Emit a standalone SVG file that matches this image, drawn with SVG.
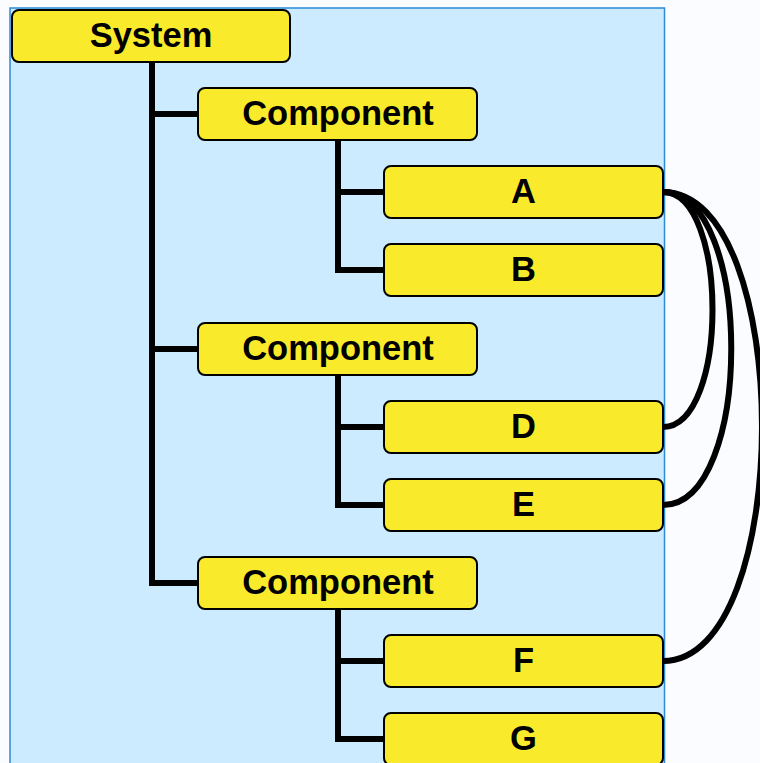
<svg xmlns="http://www.w3.org/2000/svg" width="760" height="763" viewBox="0 0 760 763">
  <style>
    .box { fill: #f9eb2b; stroke: #000; stroke-width: 2; }
    .lbl { font-family: "Liberation Sans", Arial, sans-serif; font-weight: bold; font-size: 34.5px; fill: #000; text-anchor: middle; }
    .tree { fill: none; stroke: #000; stroke-width: 6; stroke-linejoin: miter; }
    .link { fill: none; stroke: #000; stroke-width: 6; }
  </style>
  <rect x="0" y="0" width="760" height="763" fill="#fbfcff"/>
  <!-- system boundary -->
  <rect id="panel" x="10" y="8" width="654.5" height="770" fill="#cdebff" stroke="#2b8ad6" stroke-width="1.5"/>

  <!-- connectors -->
  <g id="connectors">
    <path class="tree" d="M152,62 V583 H198 M152,114 H198 M152,349 H198"/>
    <path class="tree" d="M338,140 V270 H384 M338,192 H384"/>
    <path class="tree" d="M338,375 V505 H384 M338,427 H384"/>
    <path class="tree" d="M338,609 V739 H384 M338,661 H384"/>
    <path class="link" d="M663,192 C729,192 729,427 663,427"/>
    <path class="link" d="M663,192 C754,192 754,505 663,505"/>
    <path class="link" d="M663,192 C795,192 795,661 663,661"/>
  </g>

  <g id="system">
    <rect class="box" x="12" y="10" width="278" height="52" rx="7"/>
    <text class="lbl" x="151" y="46.5">System</text>
  </g>
  <g id="component1">
    <rect class="box" x="198" y="88" width="279" height="52" rx="7"/>
    <text class="lbl" x="338" y="125">Component</text>
  </g>
  <g id="nodeA">
    <rect class="box" x="384" y="166" width="279" height="52" rx="7"/>
    <text class="lbl" x="523.5" y="203">A</text>
  </g>
  <g id="nodeB">
    <rect class="box" x="384" y="244" width="279" height="52" rx="7"/>
    <text class="lbl" x="523.5" y="281">B</text>
  </g>
  <g id="component2">
    <rect class="box" x="198" y="323" width="279" height="52" rx="7"/>
    <text class="lbl" x="338" y="360">Component</text>
  </g>
  <g id="nodeD">
    <rect class="box" x="384" y="401" width="279" height="52" rx="7"/>
    <text class="lbl" x="523.5" y="438">D</text>
  </g>
  <g id="nodeE">
    <rect class="box" x="384" y="479" width="279" height="52" rx="7"/>
    <text class="lbl" x="523.5" y="516">E</text>
  </g>
  <g id="component3">
    <rect class="box" x="198" y="557" width="279" height="52" rx="7"/>
    <text class="lbl" x="338" y="594">Component</text>
  </g>
  <g id="nodeF">
    <rect class="box" x="384" y="635" width="279" height="52" rx="7"/>
    <text class="lbl" x="523.5" y="672">F</text>
  </g>
  <g id="nodeG">
    <rect class="box" x="384" y="713" width="279" height="52" rx="7"/>
    <text class="lbl" x="523.5" y="750">G</text>
  </g>
</svg>
